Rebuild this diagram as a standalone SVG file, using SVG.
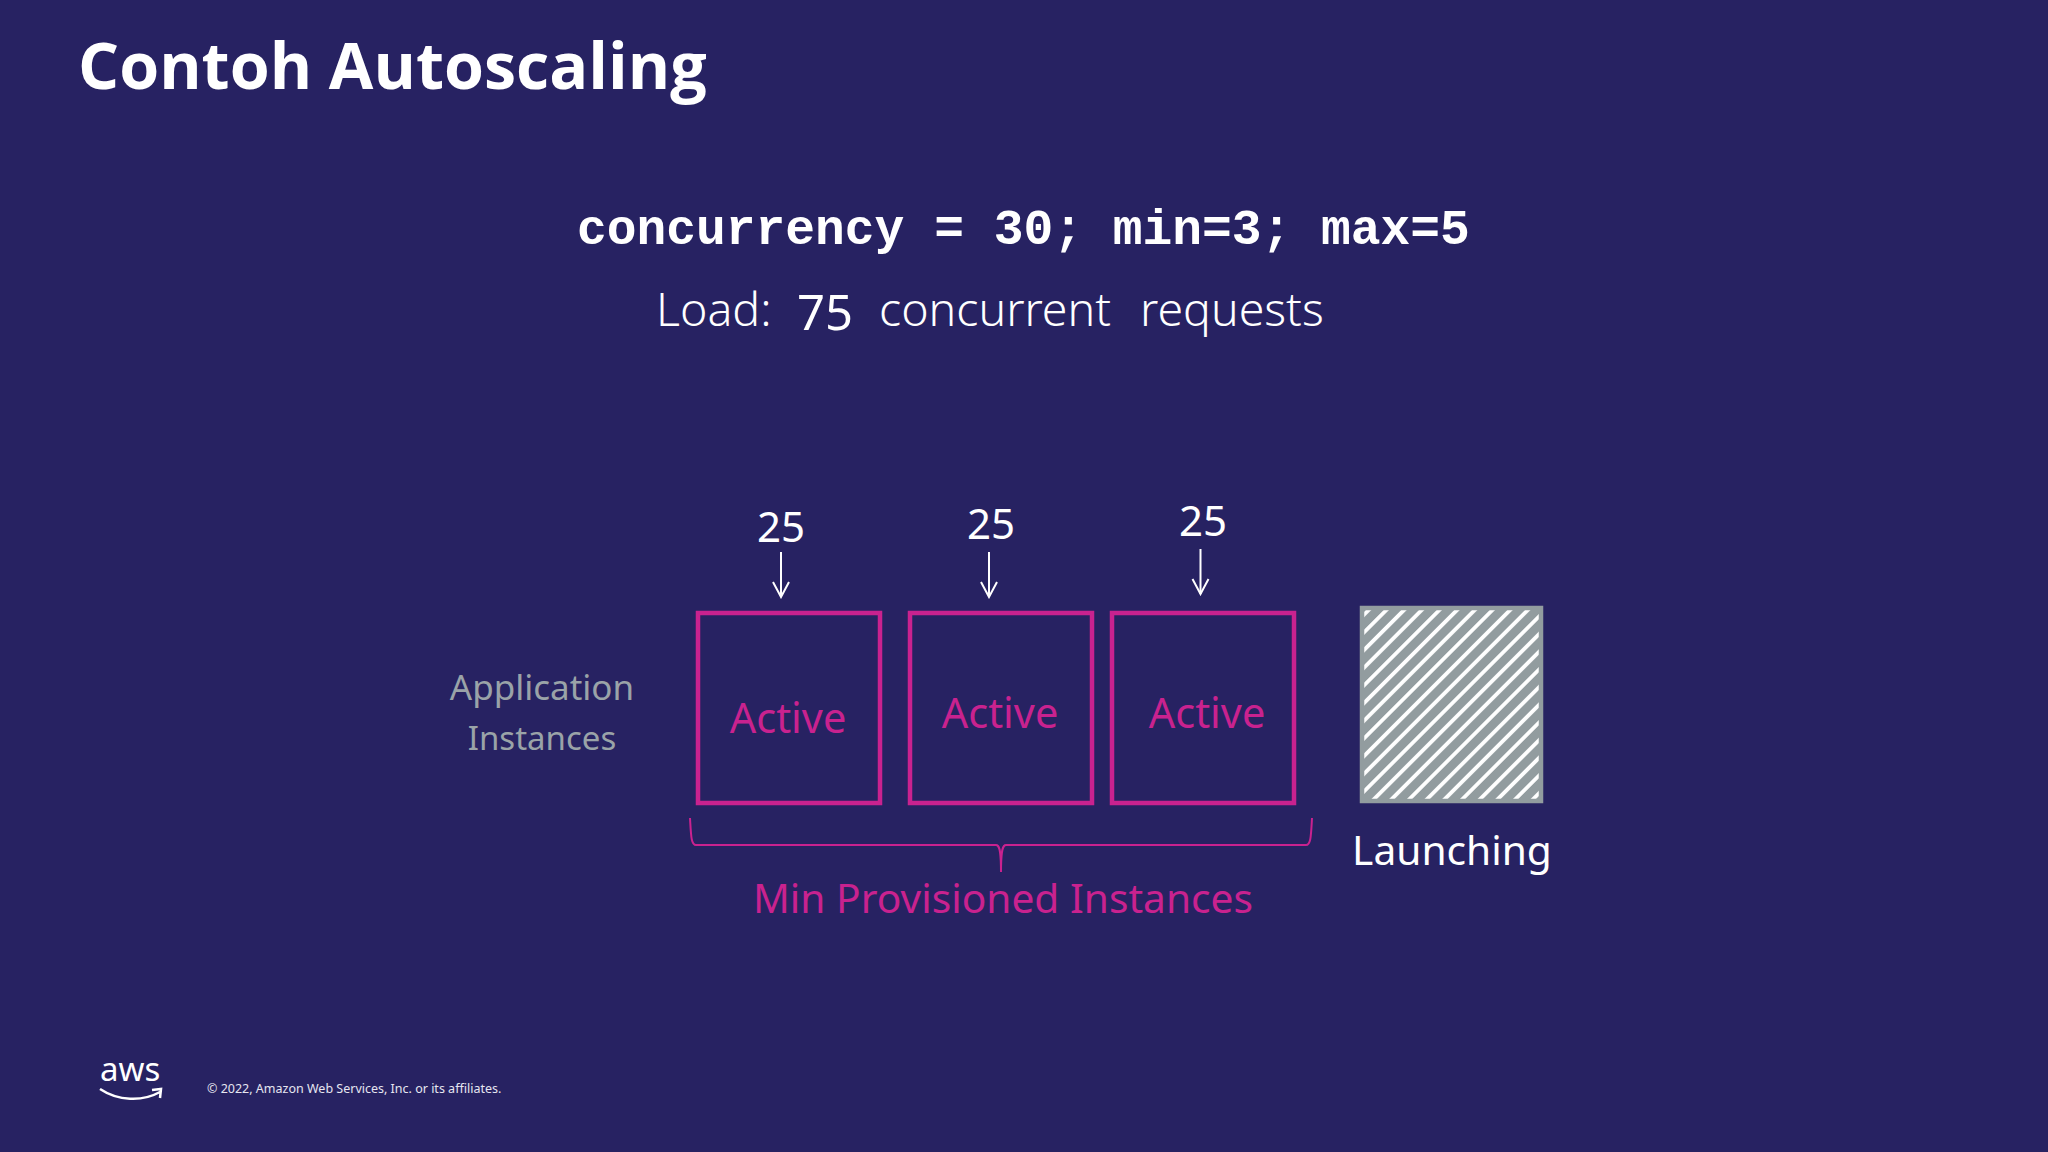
<svg xmlns="http://www.w3.org/2000/svg" width="2048" height="1152" viewBox="0 0 2048 1152">
<style>
text{font-family:"Noto Sans","Open Sans",sans-serif}
.box{fill:none;stroke:#c9228f;stroke-width:4.5}
.pink{fill:#c9228f;font-size:41.500px}
.min{fill:#c9228f;font-size:40.700px}
.num{fill:#fff;font-size:42px;text-anchor:middle}
.thin{fill:#fff;font-size:46.500px;font-weight:300}
.grey{fill:#9aa3a8;font-size:35px;text-anchor:middle}
.conn{fill:none;stroke:#fff;stroke-width:2}
</style>
<defs>
<pattern id="hatch" width="12.5" height="12.5" patternUnits="userSpaceOnUse" patternTransform="translate(1365 611) rotate(-45)">
<rect width="12.5" height="12.5" fill="#929c9f"/>
<rect width="12.5" height="3.8" fill="#fff"/>
</pattern>
<marker id="arr" viewBox="0 0 20 20" refX="18" refY="10" markerWidth="20" markerHeight="20" markerUnits="userSpaceOnUse" orient="auto"><path d="M3 2 L18 10 L3 18" fill="none" stroke="#fff" stroke-width="2"/></marker>
</defs>
<rect width="2048" height="1152" fill="#272262"/>
<text id="title" x="78" y="89" fill="#fff" font-size="64.600" font-weight="700" style="font-family:'Open Sans',sans-serif">Contoh Autoscaling</text>
<text id="config" x="577" y="244" fill="#fff" font-size="49.600" font-weight="700" style="font-family:'Liberation Mono',monospace">concurrency = 30; min=3; max=5</text>
<g id="load">
<text class="thin" x="656" y="326">Load:</text>
<text x="797" y="330" fill="#fff" font-size="49">75</text>
<text class="thin" x="879" y="326">concurrent</text>
<text class="thin" x="1140" y="326">requests</text>
</g>
<g id="app-label"><text class="grey" x="542" y="700">Application</text><text class="grey" x="542" y="750" style="font-size:33px">Instances</text></g>
<g id="connectors">
<path class="conn" d="M781 552V597" marker-end="url(#arr)"/>
<path class="conn" d="M989 552V597" marker-end="url(#arr)"/>
<path class="conn" d="M1200.500 549V594" marker-end="url(#arr)"/>
<path d="M690 818C691 835 691 845 696 845H996C999 845 1001 848 1001 872C1001 848 1003 845 1006 845H1306C1311 845 1311 835 1312 818" fill="none" stroke="#c9228f" stroke-width="2"/>
</g>
<g id="n1"><text class="num" x="781" y="542">25</text><rect class="box" x="698" y="613" width="182" height="190"/><text class="pink" x="788" y="733" text-anchor="middle">Active</text></g>
<g id="n2"><text class="num" x="991" y="539">25</text><rect class="box" x="910" y="613" width="182" height="190"/><text class="pink" x="1000" y="728" text-anchor="middle">Active</text></g>
<g id="n3"><text class="num" x="1203" y="536">25</text><rect class="box" x="1112" y="613" width="182" height="190"/><text class="pink" x="1207" y="728" text-anchor="middle">Active</text></g>
<g id="n4"><rect x="1362" y="608" width="179" height="193" fill="url(#hatch)" stroke="#929c9f" stroke-width="4.500"/><text x="1452" y="865" fill="#fff" font-size="40.700" text-anchor="middle">Launching</text></g>
<text id="min-label" class="min" x="1003" y="913" text-anchor="middle">Min Provisioned Instances</text>
<g id="logo"><text x="100" y="1081" fill="#fff" font-size="33">aws</text>
<path d="M100 1089C118 1101 142 1102 160 1092M152 1090L161 1089L160 1098" fill="none" stroke="#fff" stroke-width="2.500"/></g>
<text id="copyright" x="207" y="1093" fill="#e6e6f0" font-size="12.500">© 2022, Amazon Web Services, Inc. or its affiliates.</text>
</svg>
